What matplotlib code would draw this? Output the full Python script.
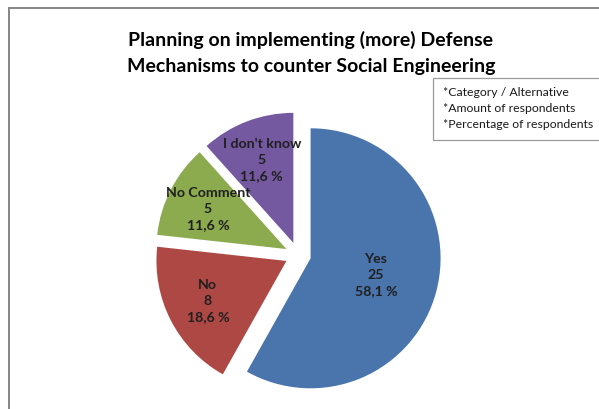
import matplotlib
matplotlib.use("Agg")
import matplotlib.pyplot as plt
import numpy as np
from matplotlib.patches import Rectangle
from matplotlib.lines import Line2D

plt.rcParams['font.family'] = ['Lato', 'DejaVu Sans']

categories = ["Yes", "No", "No Comment", "I don't know"]
counts = [25, 8, 5, 5]
percent_labels = ["58,1 %", "18,6 %", "11,6 %", "11,6 %"]
colors = ["#4A74AC", "#AE4845", "#8BAB4E", "#7459A0"]
title = "Planning on implementing (more) Defense\nMechanisms to counter Social Engineering"
key_lines = ["*Category / Alternative", "*Amount of respondents", "*Percentage of respondents"]

W, H = 599, 409
fig = plt.figure(figsize=(W / 100, H / 100), dpi=100)
fig.patch.set_facecolor("white")

# pie axes calibrated in pixels: centre and radius
cx, cy, R = 298, 255, 130
ax = fig.add_axes([0, 0, 1, 1])
wedges, _ = ax.pie(counts, colors=colors, startangle=90, counterclock=False,
                   explode=[0.1] * 4, radius=1.0,
                   wedgeprops=dict(linewidth=0))
ax.set_xlim(-cx / R, (W - cx) / R)
ax.set_ylim(-(H - cy) / R, cy / R)
ax.set_aspect('auto')
ax.axis('off')

# labels inside each slice
label_r = [0.52, 0.68, 0.68, 0.68]
for w, cat, n, pct, lr in zip(wedges, categories, counts, percent_labels, label_r):
    th = np.deg2rad((w.theta1 + w.theta2) / 2)
    x = w.center[0] + lr * np.cos(th)
    y = w.center[1] + lr * np.sin(th)
    ax.text(x, y, f"{cat}\n{n}\n{pct}", ha="center", va="center",
            fontsize=10.2, fontweight="bold", color="#1f1f1f", linespacing=1.4)

# title
fig.text(311 / W, 1 - 53 / H, title, ha="center", va="center", fontsize=14,
         fontweight="bold", color="black", linespacing=1.6)

# explanatory key box
bx0, by0, bx1, by1 = 433, 78, 603, 140
fig.add_artist(Rectangle((bx0 / W, 1 - by1 / H), (bx1 - bx0) / W, (by1 - by0) / H,
                         transform=fig.transFigure, facecolor="white",
                         edgecolor="#9a9a9a", linewidth=0.9))
for i, line in enumerate(key_lines):
    fig.text(443 / W, 1 - (93 + i * 15.5) / H, line, ha="left", va="center",
             fontsize=8.8, color="#1a1a1a")

# chart border (top and left edges)
fig.add_artist(Line2D([9 / W, 1.0], [1 - 7.5 / H, 1 - 7.5 / H], transform=fig.transFigure,
                      color="#868686", linewidth=1.4))
fig.add_artist(Line2D([9 / W, 9 / W], [0, 1 - 7.5 / H], transform=fig.transFigure,
                      color="#868686", linewidth=1.4))

fig.savefig("out.png", dpi=100, facecolor="white")
